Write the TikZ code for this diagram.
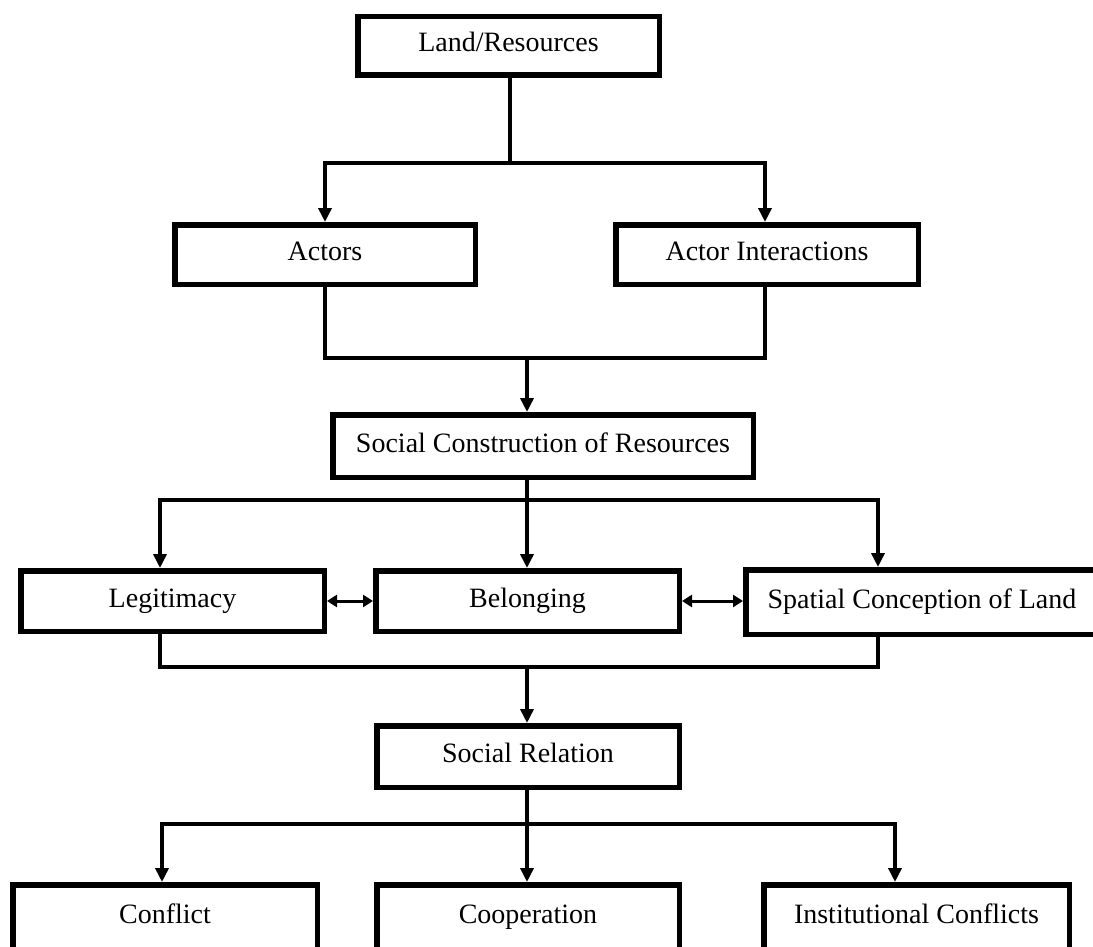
\documentclass[tikz,border=0pt]{standalone}
\usepackage{fontspec}
\setmainfont{Liberation Serif}
\usetikzlibrary{arrows.meta}
\begin{document}
\begin{tikzpicture}[x=1pt,y=-1pt,
  box/.style={draw, line width=5.5pt, rectangle, inner sep=0pt, align=center,
    text height=19pt, text depth=7pt,
    font=\fontsize{28pt}{32pt}\selectfont},
  conn/.style={line width=4.5pt, line join=miter},
  arr/.style={conn, -{Triangle[width=13pt,length=14pt]}},
  both/.style={line width=3pt, {Triangle[width=12pt,length=10pt]}-{Triangle[width=12pt,length=10pt]}}]
\useasboundingbox (0,0) rectangle (1093,947);
\fill[white] (0,0) rectangle (1093,947);

% boxes
\node[box, minimum width=301.5pt, minimum height=58.5pt] (land) at (508.5,46) {Land/Resources};
\node[box, minimum width=300.5pt, minimum height=59.5pt] (actors) at (325,254.5) {Actors};
\node[box, minimum width=302.5pt, minimum height=59.5pt] (inter) at (767,254.5) {Actor Interactions};
\node[box, minimum width=420.5pt, minimum height=62.5pt] (soc) at (543,446) {Social Construction of Resources};
\node[box, minimum width=303.5pt, minimum height=60.5pt] (legit) at (172.5,601) {Legitimacy};
\node[box, minimum width=303.5pt, minimum height=60.5pt] (belong) at (527.5,601) {Belonging};
\node[box, minimum width=352.5pt, minimum height=64.5pt] (spatial) at (922,602) {Spatial Conception of Land};
\node[box, minimum width=302.5pt, minimum height=61.5pt] (socrel) at (528,756.5) {Social Relation};
\node[box, minimum width=304.5pt, minimum height=64.5pt] (conflict) at (165,917) {Conflict};
\node[box, minimum width=302.5pt, minimum height=64.5pt] (coop) at (528,917) {Cooperation};
\node[box, minimum width=305.5pt, minimum height=64.5pt] (inst) at (916.5,917) {Institutional Conflicts};

% junctions and branch columns
\coordinate (j1) at (510,163);
\coordinate (j2) at (527,358);
\coordinate (j3) at (527,500);
\coordinate (j4) at (527,667);
\coordinate (j5) at (527,824);
\coordinate (cL) at (160,0);
\coordinate (cR) at (878,0);
\coordinate (bL) at (162,0);
\coordinate (bR) at (895,0);

% Land/Resources -> Actors, Actor Interactions
\draw[conn] (j1 |- land.south) -- (j1);
\draw[arr] (j1) -| (actors.north);
\draw[arr] (j1) -| ([xshift=-2pt]inter.north);

% Actors + Actor Interactions -> Social Construction
\draw[conn] (actors.south) |- (j2) -| ([xshift=-2pt]inter.south);
\draw[arr] (j2) -- (j2 |- soc.north);

% Social Construction -> three concepts
\draw[conn] (j3 |- soc.south) -- (j3);
\draw[arr] (j3) -| (cL |- legit.north);
\draw[arr] (j3) -- (j3 |- belong.north);
\draw[arr] (j3) -| (cR |- spatial.north);
\draw[both] (legit.east) -- (belong.west);
\draw[both] (belong.east) -- (belong.east -| spatial.west);

% three concepts -> Social Relation
\draw[conn] (cL |- legit.south) |- (j4) -| (cR |- spatial.south);
\draw[arr] (j4) -- (j4 |- socrel.north);

% Social Relation -> outcomes
\draw[conn] (j5 |- socrel.south) -- (j5);
\draw[arr] (j5) -| (bL |- conflict.north);
\draw[arr] (j5) -- (j5 |- coop.north);
\draw[arr] (j5) -| (bR |- inst.north);
\end{tikzpicture}
\end{document}
